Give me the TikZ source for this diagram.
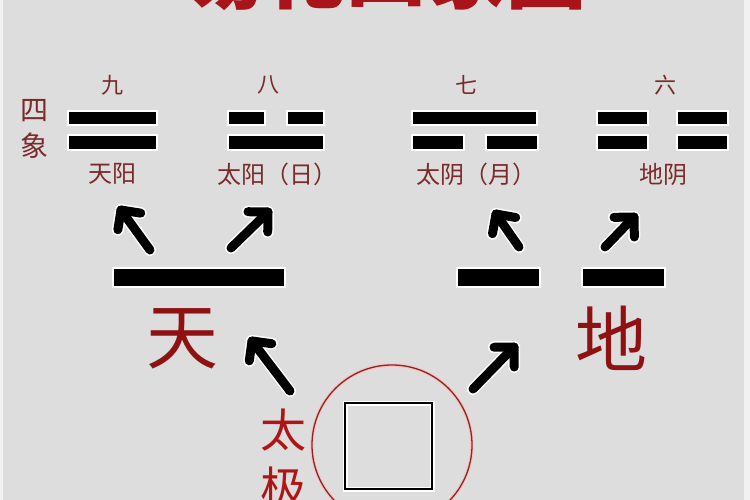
\documentclass[tikz,border=0pt]{standalone}
\usepackage{fontspec}
\setmainfont{Noto Sans CJK SC}
\usetikzlibrary{calc}
\definecolor{bg}{HTML}{DDDDDD}
\definecolor{titlered}{HTML}{A8141A}
\definecolor{labelred}{HTML}{7A2A2A}
\definecolor{bigred}{HTML}{8E1212}
\definecolor{tjred}{HTML}{B01515}
\definecolor{ringred}{HTML}{7E2A2A}
\newcommand\chevarrow[2]{%
  \draw[arrowhalo] (#1) -- (#2);
  \draw[arrowhalo] ($(#2)!20pt!45:(#1)$) -- (#2) -- ($(#2)!20pt!-45:(#1)$);
  \draw[arrowline] (#1) -- (#2);
  \draw[arrowline] ($(#2)!20pt!45:(#1)$) -- (#2) -- ($(#2)!20pt!-45:(#1)$);
}
\begin{document}
\begin{tikzpicture}[x=1pt,y=-1pt,
  bar/.style={draw=white, line width=1.6pt, fill=black, inner sep=0pt, minimum height=14pt},
  bigbar/.style={bar, minimum height=19pt},
  num/.style={text=labelred, font=\fontsize{22}{22}\selectfont, inner sep=0pt},
  lab/.style={text=labelred, font=\fontsize{24}{24}\selectfont, inner sep=0pt},
  big/.style={text=bigred, font=\fontsize{72}{72}\selectfont, inner sep=0pt},
  tj/.style={text=tjred, font=\fontsize{46}{46}\selectfont, inner sep=0pt},
  arrowhalo/.style={white, line width=12pt, line cap=round, line join=round},
  arrowline/.style={black, line width=9pt, line cap=round, line join=round}]
\useasboundingbox (0,0) rectangle (750,500);
\clip (0,0) rectangle (750,500);
\fill[bg] (0,0) rectangle (750,500);
\fill[white!60!bg] (0,0) rectangle (3,500);
\fill[white!60!bg] (744,0) rectangle (750,500);

% title (mostly cut off at the top edge)
\node[text=titlered, font=\fontsize{80}{80}\selectfont\bfseries, anchor=base, inner sep=0pt] (title) at (386,3) {易化四象图};

% 四象
\node[text=labelred, font=\fontsize{28}{28}\selectfont, inner sep=0pt] (si) at (34,111) {四};
\node[text=labelred, font=\fontsize{28}{28}\selectfont, inner sep=0pt] (xiang) at (34,146) {象};

% numbers
\node[num] (n9) at (112,85) {九};
\node[num] (n8) at (268,85) {八};
\node[num] (n7) at (466,85) {七};
\node[num] (n6) at (665,85) {六};

% 九 : two solid lines
\node[bar, minimum width=89pt] (b9a) at (112.5,118) {};
\node[bar, minimum width=89pt, minimum height=15pt] (b9b) at (112.5,142.5) {};
% 八 : broken over solid
\node[bar, minimum width=37pt] (b8a) at (246.5,118) {};
\node[bar, minimum width=37pt] (b8b) at (305.5,118) {};
\node[bar, minimum width=96pt, minimum height=15pt] (b8c) at (276,142.5) {};
% 七 : solid over broken
\node[bar, minimum width=125pt] (b7a) at (474.5,118) {};
\node[bar, minimum width=52pt, minimum height=15pt] (b7b) at (438,142.5) {};
\node[bar, minimum width=52pt, minimum height=15pt] (b7c) at (512,142.5) {};
% 六 : two broken lines
\node[bar, minimum width=51pt] (b6a) at (622.5,118) {};
\node[bar, minimum width=51pt] (b6b) at (702.5,118) {};
\node[bar, minimum width=51pt, minimum height=15pt] (b6c) at (622.5,142.5) {};
\node[bar, minimum width=51pt, minimum height=15pt] (b6d) at (702.5,142.5) {};

% labels
\node[lab] (l9) at (112,174) {天阳};
\node[lab] (l8) at (277,174) {太阳（日）};
\node[lab] (l7) at (476,174) {太阴（月）};
\node[lab] (l6) at (663,174) {地阴};

% level two
\node[bigbar, minimum width=172pt] (tianbar) at (199,277.5) {};
\node[bigbar, minimum width=83pt] (dibar1) at (498.5,277.5) {};
\node[bigbar, minimum width=83pt] (dibar2) at (623.5,277.5) {};
\node[big] (tian) at (182,339) {天};
\node[big] (di) at (611,338) {地};

% taiji
\node[tj] (tai) at (283,430) {太};
\node[tj] (ji) at (283,488) {极};
\draw[red!25!white, line width=3.5pt] (392,445) circle (80);
\draw[ringred, line width=1.3pt] (392,445) circle (80);
\node[draw=white, line width=5pt, minimum width=87pt, minimum height=86pt, inner sep=0pt] (sqhalo) at (388.5,446) {};
\node[draw=black, line width=2.2pt, minimum width=87pt, minimum height=86pt, inner sep=0pt] (sq) at (388.5,446) {};

% arrow end points
\coordinate (t1) at (150,250); \coordinate (h1) at (121,210);
\coordinate (t2) at (231,248); \coordinate (h2) at (268,212);
\coordinate (t3) at (519,247); \coordinate (h3) at (496,214);
\coordinate (t4) at (605,247); \coordinate (h4) at (634,217);
\coordinate (t5) at (290,391); \coordinate (h5) at (252,341);
\coordinate (t6) at (473,389); \coordinate (h6) at (514,347);
\chevarrow{t1}{h1}
\chevarrow{t2}{h2}
\chevarrow{t3}{h3}
\chevarrow{t4}{h4}
\chevarrow{t5}{h5}
\chevarrow{t6}{h6}
\end{tikzpicture}
\end{document}
